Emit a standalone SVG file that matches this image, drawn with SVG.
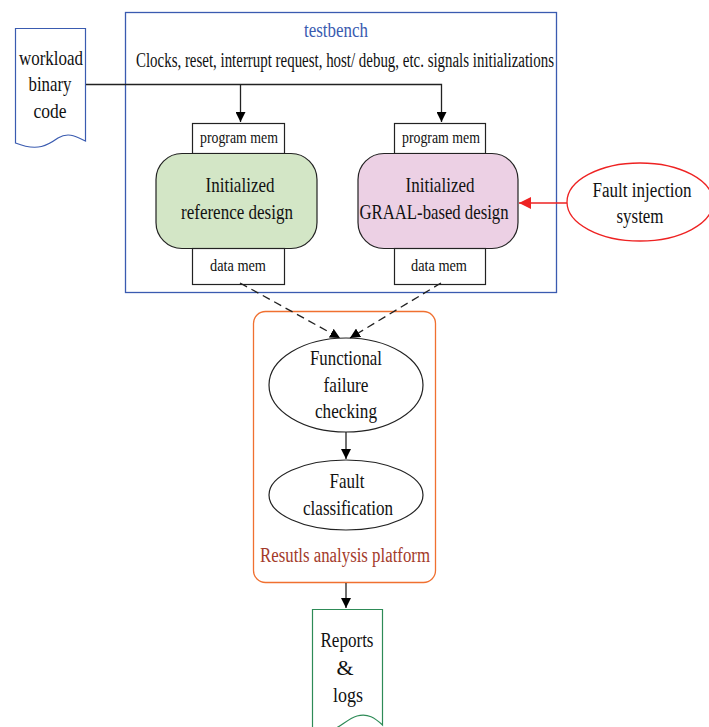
<svg xmlns="http://www.w3.org/2000/svg" width="709" height="727" viewBox="0 0 709 727">
<defs>
<marker id="ah" viewBox="0 0 10 10" refX="10" refY="5" markerWidth="10" markerHeight="10" markerUnits="userSpaceOnUse" orient="auto"><path d="M0,0 L10,5 L0,10 z" fill="#000"/></marker>
<marker id="ahr" viewBox="0 0 10 10" refX="10" refY="5" markerWidth="12" markerHeight="12" markerUnits="userSpaceOnUse" orient="auto"><path d="M0,0 L10,5 L0,10 z" fill="#ee2222"/></marker>
</defs>
<style>
text{font-family:"Liberation Serif","Times New Roman",serif;fill:#111;text-anchor:middle}
.box{fill:#fff;stroke:#222;stroke-width:1.2}
.ln{fill:none;stroke:#222;stroke-width:1.3}
.s14{font-size:16px}
.s20{font-size:22px}
.s18{font-size:21px}
</style>
<rect width="709" height="727" fill="#fff"/>
<g id="testbench">
<rect x="125.5" y="12.5" width="431" height="280" fill="none" stroke="#3a5bb0" stroke-width="1.3"/>
<text x="336" y="37" font-size="20" style="fill:#3a5bb0" textLength="64" lengthAdjust="spacingAndGlyphs">testbench</text>
<text x="345" y="67" font-size="20" textLength="418" lengthAdjust="spacingAndGlyphs">Clocks, reset, interrupt request, host/ debug, etc. signals initializations</text>
</g>
<g id="workload">
<path d="M15.5,28.5 H85.5 V141 C75,136 68,132 58,138 C48,145 38,152 15.5,143 Z" fill="#fff" stroke="#3a5bb0" stroke-width="1.2"/>
<text class="s18" x="51" y="65" textLength="64" lengthAdjust="spacingAndGlyphs">workload</text>
<text class="s18" x="50" y="91" textLength="43" lengthAdjust="spacingAndGlyphs">binary</text>
<text class="s18" x="50" y="118" textLength="33" lengthAdjust="spacingAndGlyphs">code</text>
</g>
<g id="ref-design">
<rect class="box" x="192.5" y="123.5" width="92" height="30"/>
<text class="s14" x="239" y="143" textLength="78" lengthAdjust="spacingAndGlyphs">program mem</text>
<rect x="156" y="153.5" width="161" height="95" rx="26" fill="#d3e6c6" stroke="#222" stroke-width="1.2"/>
<text class="s20" x="240" y="192" textLength="69" lengthAdjust="spacingAndGlyphs">Initialized</text>
<text class="s20" x="237" y="219" textLength="112" lengthAdjust="spacingAndGlyphs">reference design</text>
<rect class="box" x="192.5" y="248.5" width="92" height="36"/>
<text class="s14" x="238" y="271" textLength="56" lengthAdjust="spacingAndGlyphs">data mem</text>
</g>
<g id="graal-design">
<rect class="box" x="394.5" y="123.5" width="91" height="30"/>
<text class="s14" x="441" y="143" textLength="78" lengthAdjust="spacingAndGlyphs">program mem</text>
<rect x="358" y="153.5" width="160" height="95" rx="26" fill="#ecd0e4" stroke="#222" stroke-width="1.2"/>
<text class="s20" x="440" y="192" textLength="69" lengthAdjust="spacingAndGlyphs">Initialized</text>
<text class="s20" x="434" y="219" textLength="149" lengthAdjust="spacingAndGlyphs">GRAAL-based design</text>
<rect class="box" x="394.5" y="248.5" width="91" height="36"/>
<text class="s14" x="439" y="271" textLength="56" lengthAdjust="spacingAndGlyphs">data mem</text>
</g>
<g id="fault-injection">
<ellipse cx="640" cy="202" rx="73" ry="39" fill="#fff" stroke="#ee2222" stroke-width="1.3"/>
<text x="642" y="197" font-size="20" textLength="99" lengthAdjust="spacingAndGlyphs">Fault injection</text>
<text x="640" y="223" font-size="20" textLength="47" lengthAdjust="spacingAndGlyphs">system</text>
</g>
<g id="analysis-platform">
<rect x="253.5" y="311.5" width="182" height="271" rx="12" fill="none" stroke="#f07030" stroke-width="1.3"/>
<text x="345" y="562" font-size="20" style="fill:#a33a2a" textLength="170" lengthAdjust="spacingAndGlyphs">Resutls analysis platform</text>
</g>
<g id="functional-check">
<ellipse cx="346" cy="385" rx="77" ry="47" fill="#fff" stroke="#222" stroke-width="1.2"/>
<text class="s20" x="346" y="365" textLength="72" lengthAdjust="spacingAndGlyphs">Functional</text>
<text class="s20" x="346" y="392" textLength="45" lengthAdjust="spacingAndGlyphs">failure</text>
<text class="s20" x="346" y="418" textLength="62" lengthAdjust="spacingAndGlyphs">checking</text>
</g>
<g id="fault-class">
<ellipse cx="346" cy="495" rx="77" ry="35" fill="#fff" stroke="#222" stroke-width="1.2"/>
<text class="s20" x="347" y="488" textLength="35" lengthAdjust="spacingAndGlyphs">Fault</text>
<text class="s20" x="348" y="515" textLength="90" lengthAdjust="spacingAndGlyphs">classification</text>
</g>
<g id="reports">
<path d="M312.5,609.5 H382.5 V725 C375,718 368,713 357,716 C347,719 340,728 333,729 L312.5,729 Z" fill="#fff" stroke="#2e8b57" stroke-width="1.2"/>
<text class="s20" x="347" y="647" textLength="53" lengthAdjust="spacingAndGlyphs">Reports</text>
<text class="s20" x="345" y="675">&amp;</text>
<text class="s20" x="348" y="702" textLength="30" lengthAdjust="spacingAndGlyphs">logs</text>
</g>
<g id="connectors">
<polyline class="ln" points="86,84.5 441.5,84.5 441.5,122" marker-end="url(#ah)"/>
<line class="ln" x1="240.5" y1="84.5" x2="240.5" y2="122" marker-end="url(#ah)"/>
<line x1="567" y1="203" x2="519" y2="203" stroke="#ee2222" stroke-width="1.4" marker-end="url(#ahr)"/>
<line class="ln" x1="240" y1="283" x2="340" y2="338" stroke-dasharray="8,5" stroke-width="1.8" marker-end="url(#ah)"/>
<line class="ln" x1="441" y1="283" x2="350" y2="338" stroke-dasharray="8,5" stroke-width="1.8" marker-end="url(#ah)"/>
<line class="ln" x1="346" y1="432" x2="346" y2="459" marker-end="url(#ah)"/>
<line class="ln" x1="346" y1="583" x2="346" y2="608" marker-end="url(#ah)"/>
</g>
</svg>
